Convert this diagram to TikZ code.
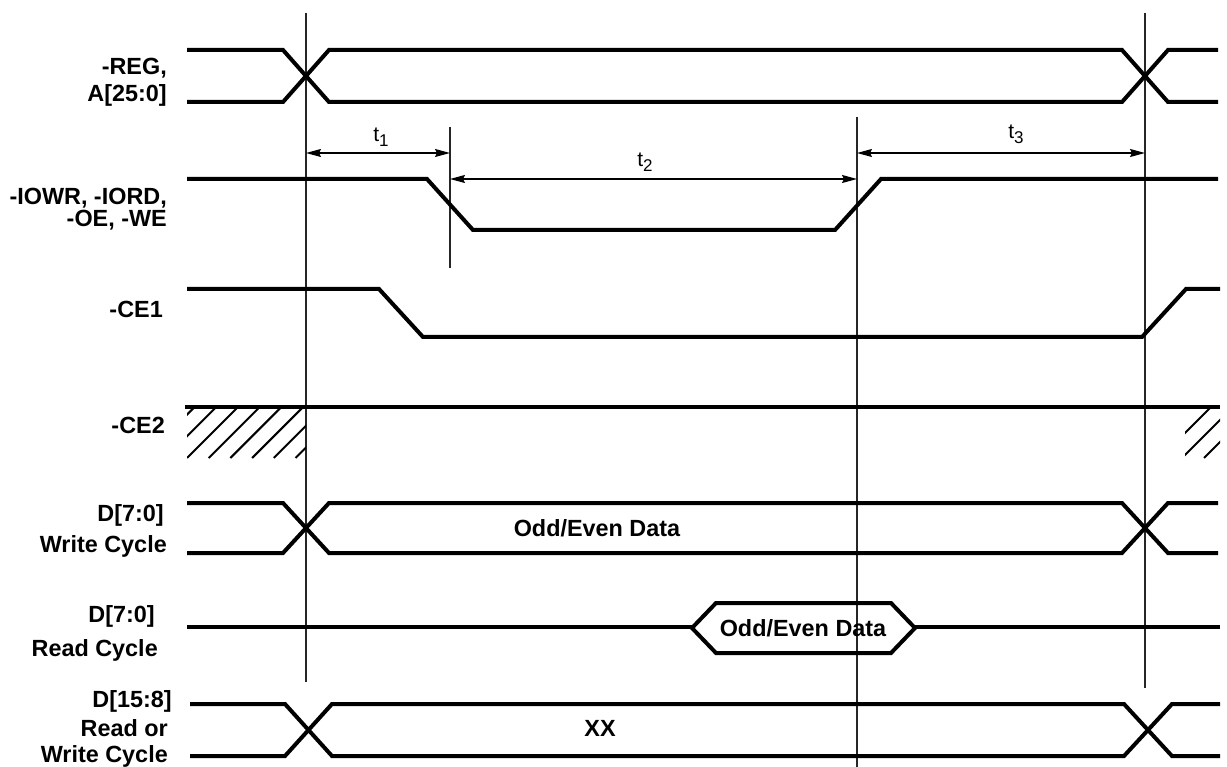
\documentclass[tikz,border=0pt]{standalone}
\usepackage{fontspec}
\setmainfont{Liberation Sans}
\usetikzlibrary{arrows.meta}
\begin{document}
\begin{tikzpicture}[x=1pt,y=-1pt,
  sig/.style={line width=4pt, line join=miter, line cap=butt},
  vline/.style={line width=1.5pt, black!85},
  hatch/.style={line width=2pt},
  tarrow/.style={line width=1.3pt, {Stealth[length=15pt,width=8pt,inset=2pt]}-{Stealth[length=15pt,width=8pt,inset=2pt]}},
  lbl/.style={font=\fontsize{23.4}{26}\selectfont\bfseries, anchor=base east, inner sep=0pt},
  dat/.style={font=\fontsize{23.4}{26}\selectfont\bfseries, inner sep=0pt},
  tlbl/.style={font=\fontsize{21}{24}\selectfont, inner sep=0pt}
]
\useasboundingbox (0,0) rectangle (1227,767);

% labels
\node[lbl] (lreg) at (167,75) {-REG,};
\node[lbl] (la) at (167,102) {A[25:0]};
\node[lbl] (liowr) at (167,205) {-IOWR, -IORD,};
\node[lbl] (loe) at (167,227) {-OE, -WE};
\node[lbl] (lce1) at (163,318) {-CE1};
\node[lbl] (lce2) at (165,433) {-CE2};
\node[lbl] (ldw) at (164,521) {D[7:0]};
\node[lbl] (lwc) at (167,552) {Write Cycle};
\node[lbl] (ldr) at (155,622) {D[7:0]};
\node[lbl] (lrc) at (158,656) {Read Cycle};
\node[lbl] (ldh) at (172,707) {D[15:8]};
\node[lbl] (lro) at (168,736) {Read or};
\node[lbl] (lwc2) at (168,762) {Write Cycle};

% vertical reference lines
\coordinate (v1t) at (306,13);  \coordinate (v1b) at (306,682);
\coordinate (v2t) at (450,127); \coordinate (v2b) at (450,268);
\coordinate (v3t) at (857,117); \coordinate (v3b) at (857,767);
\coordinate (v4t) at (1145,13); \coordinate (v4b) at (1145,688);
\draw[vline] (v1t) -- (v1b);
\draw[vline] (v2t) -- (v2b);
\draw[vline] (v3t) -- (v3b);
\draw[vline] (v4t) -- (v4b);

% -REG, A[25:0]
\draw[sig] (187,50) -- (283,50) -- (329,102) -- (1122,102) -- (1168,50) -- (1218,50);
\draw[sig] (187,102) -- (283,102) -- (329,50) -- (1122,50) -- (1168,102) -- (1218,102);

% -IOWR
\draw[sig] (187,179) -- (427,179) -- (473,230) -- (835,230) -- (881,179) -- (1218,179);

% -CE1
\draw[sig] (187,289) -- (379,289) -- (423,337) -- (1142,337) -- (1186,289) -- (1220,289);

% -CE2
\draw[sig] (185,407) -- (1220,407);
\begin{scope}
  \clip (187,409) rectangle (306,458);
  \foreach \k in {-3,...,6} {
    \draw[hatch] ({187+21.7*\k},458) -- ({238+21.7*\k},407);
  }
\end{scope}
\begin{scope}
  \clip (1185,409) rectangle (1220,458);
  \foreach \k in {0,1,2} {
    \draw[hatch] ({1160+22*\k},458) -- ({1211+22*\k},407);
  }
\end{scope}

% D[7:0] write
\draw[sig] (187,503) -- (283,503) -- (329,553) -- (1122,553) -- (1168,503) -- (1218,503);
\draw[sig] (187,553) -- (283,553) -- (329,503) -- (1122,503) -- (1168,553) -- (1218,553);
\node[dat] (dw) at (597,528) {Odd/Even Data};

% D[7:0] read
\draw[sig] (187,627) -- (692,627);
\draw[sig, line join=miter] (692,628) -- (716,603) -- (891,603) -- (915,628) -- (891,653) -- (716,653) -- cycle;
\draw[sig] (915,627) -- (1220,627);
\node[dat] (dr) at (803,628) {Odd/Even Data};

% D[15:8]
\draw[sig] (190,704) -- (285,704) -- (332,756) -- (1124,756) -- (1172,704) -- (1220,704);
\draw[sig] (190,756) -- (285,756) -- (332,704) -- (1124,704) -- (1172,756) -- (1220,756);
\node[dat] (xx) at (600,728) {XX};

% timing arrows
\coordinate (a1l) at (306,153); \coordinate (a1r) at (450,153);
\coordinate (a2l) at (450,179); \coordinate (a2r) at (857,179);
\coordinate (a3l) at (857,153); \coordinate (a3r) at (1145,153);
\draw[tarrow] (a1l) -- (a1r);
\draw[tarrow] (a2l) -- (a2r);
\draw[tarrow] (a3l) -- (a3r);
\node[tlbl] (t1) at (381,137) {t\raisebox{-5pt}{\fontsize{17}{17}\selectfont 1}};
\node[tlbl] (t2) at (645,162) {t\raisebox{-5pt}{\fontsize{17}{17}\selectfont 2}};
\node[tlbl] (t3) at (1016,134) {t\raisebox{-5pt}{\fontsize{17}{17}\selectfont 3}};
\end{tikzpicture}
\end{document}
